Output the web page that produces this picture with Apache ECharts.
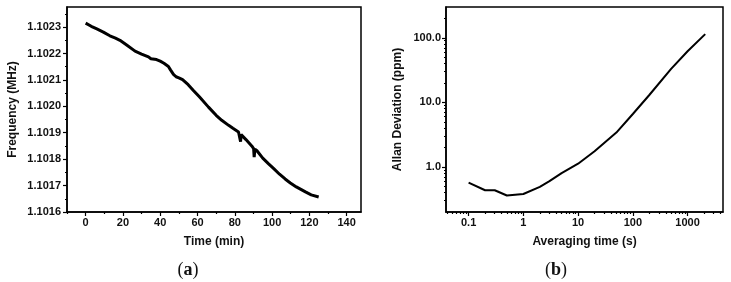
<!DOCTYPE html>
<html>
<head>
<meta charset="utf-8">
<script src="https://cdn.jsdelivr.net/npm/echarts@6/dist/echarts.min.js"></script>
<style>
  html, body { margin: 0; padding: 0; background: #fff; }
  #chart { width: 731px; height: 282px; }
</style>
</head>
<body>
<div id="chart"></div>
<script>
// (a) frequency drift
var timeMin = [0, 3, 6, 9.5, 13, 16, 18.4, 22, 26.5, 30, 33.7, 35, 35.5, 38, 40, 42, 44.4, 45.5, 47.1, 48.5, 50, 50.7, 52, 55, 57.8, 61, 65.9, 66.5, 70, 73, 76.7, 79, 82, 82.8, 83.1, 83.4, 86, 89.2, 90.1, 90.4, 90.8, 91.9, 95, 98, 100.9, 104, 107, 109.8, 113, 117.9, 121, 125]
var freqMHz = [1.102315, 1.102303, 1.102293, 1.102281, 1.102267, 1.102258, 1.10225, 1.102232, 1.102209, 1.102198, 1.102187, 1.10218, 1.102184, 1.102177, 1.102171, 1.102163, 1.102151, 1.102138, 1.102121, 1.102112, 1.102108, 1.1021085, 1.102101, 1.102082, 1.10206, 1.102036, 1.101997, 1.10199, 1.101966, 1.101947, 1.101928, 1.101917, 1.101903, 1.101897, 1.101866, 1.101893, 1.101874, 1.101849, 1.10184, 1.101808, 1.101838, 1.101832, 1.101804, 1.101783, 1.101764, 1.101743, 1.101725, 1.10171, 1.101695, 1.101676, 1.101665, 1.101657]
var timeTicks = [0, 20, 40, 60, 80, 100, 120, 140]
var timeMinor = [-10, 10, 30, 50, 70, 90, 110, 130]
var freqTicks = [1.1016, 1.1017, 1.1018, 1.1019, 1.1020, 1.1021, 1.1022, 1.1023]
var freqMinor = [1.10165, 1.10175, 1.10185, 1.10195, 1.10205, 1.10215, 1.10225, 1.10235]

// (b) Allan deviation
var tauS = [0.1, 0.2, 0.3, 0.5, 1, 2, 3, 5, 10, 20, 50, 100, 200, 500, 1000, 2100]
var adevPpm = [0.57, 0.435, 0.435, 0.36, 0.38, 0.49, 0.6, 0.8, 1.12, 1.75, 3.4, 6.6, 13, 33, 62, 114]
var tauTicks = [0.1, 1, 10, 100, 1000]
var tauLabels = ['0.1', '1', '10', '100', '1000']
var adevTicks = [1, 10, 100]
var adevLabels = ['1.0', '10.0', '100.0']

var lg = function (v) { return Math.log10(v) }

function minorLog (lo, hi) {
  var out = []
  for (var d = -3; d <= 4; d++) {
    for (var k = 2; k <= 9; k++) {
      var l = lg(k * Math.pow(10, d))
      if (l > lo + 1e-6 && l < hi - 1e-6) out.push(l)
    }
  }
  return out
}

var font = 'Liberation Sans, Arial, sans-serif'
var ink = '#111'
var timeMax = 147.7
var tauMin = -1.413, tauMax = 3.647
var adevMin = lg(0.2), adevMax = lg(300)

function baseAxis (opt) {
  var a = {
    gridIndex: opt.grid,
    type: 'value',
    position: opt.pos,
    min: opt.min,
    max: opt.max,
    axisLine: { show: opt.line !== false, onZero: false, lineStyle: { color: '#000', width: 1.5 } },
    axisTick: {
      show: true,
      inside: false,
      length: opt.len,
      customValues: opt.ticks,
      lineStyle: { color: '#000', width: 1.2 }
    },
    axisLabel: { show: false },
    splitLine: { show: false }
  }
  if (opt.labels) {
    a.axisLabel = {
      show: true,
      customValues: opt.ticks,
      formatter: opt.fmt,
      color: ink,
      fontFamily: font,
      fontWeight: 'bold',
      fontSize: 11,
      margin: opt.margin
    }
  }
  if (opt.name) {
    a.name = opt.name
    a.nameLocation = 'middle'
    a.nameGap = opt.nameGap
    a.nameTextStyle = { color: ink, fontFamily: font, fontWeight: 'bold', fontSize: 12 }
  }
  return a
}

var panelTag = function (letter, x) {
  return {
    text: '({b|' + letter + '})', left: x, top: 256, textAlign: 'center',
    textStyle: {
      fontFamily: 'Liberation Serif, serif', fontSize: 18, fontWeight: 'normal', color: ink,
      rich: { b: { fontFamily: 'Liberation Serif, serif', fontSize: 18, fontWeight: 'bold', color: ink } }
    }
  }
}

var chart = echarts.init(document.getElementById('chart'), null, { renderer: 'canvas' })

var option = {
  animation: false,
  backgroundColor: '#fff',
  title: [panelTag('a', 183), panelTag('b', 551)],
  grid: [
    { left: 67, top: 7, width: 294, height: 205, show: true, borderColor: '#000', borderWidth: 1.5, backgroundColor: 'transparent' },
    { left: 446, top: 7, width: 277, height: 205, show: true, borderColor: '#000', borderWidth: 1.5, backgroundColor: 'transparent' }
  ],
  xAxis: [
    baseAxis({ grid: 0, pos: 'bottom', min: -10, max: timeMax, len: 4, ticks: timeTicks, labels: true, margin: 5,
      fmt: function (v) { return String(v) }, name: 'Time (min)', nameGap: 24 }),
    baseAxis({ grid: 0, pos: 'bottom', min: -10, max: timeMax, len: 2, ticks: timeMinor, line: false }),
    baseAxis({ grid: 1, pos: 'bottom', min: tauMin, max: tauMax, len: 4, ticks: tauTicks.map(lg), labels: true, margin: 5,
      fmt: function (v) { return tauLabels[Math.round(v) + 1] }, name: 'Averaging time (s)', nameGap: 24 }),
    baseAxis({ grid: 1, pos: 'bottom', min: tauMin, max: tauMax, len: 2, ticks: minorLog(tauMin, tauMax), line: false })
  ],
  yAxis: [
    baseAxis({ grid: 0, pos: 'left', min: 1.1016, max: 1.102376, len: 4, ticks: freqTicks, labels: true, margin: 6,
      fmt: function (v) { return v.toFixed(4) }, name: 'Frequency (MHz)', nameGap: 48 }),
    baseAxis({ grid: 0, pos: 'left', min: 1.1016, max: 1.102376, len: 2, ticks: freqMinor, line: false }),
    baseAxis({ grid: 1, pos: 'left', min: adevMin, max: adevMax, len: 4, ticks: adevTicks.map(lg), labels: true, margin: 5,
      fmt: function (v) { return adevLabels[Math.round(v)] }, name: 'Allan Deviation (ppm)', nameGap: 42 }),
    baseAxis({ grid: 1, pos: 'left', min: adevMin, max: adevMax, len: 2, ticks: minorLog(adevMin, adevMax), line: false })
  ],
  series: [
    {
      type: 'line',
      xAxisIndex: 0,
      yAxisIndex: 0,
      data: timeMin.map(function (t, i) { return [t, freqMHz[i]] }),
      showSymbol: false,
      symbol: 'none',
      lineStyle: { color: '#000', width: 3 },
      z: 3
    },
    {
      type: 'line',
      xAxisIndex: 2,
      yAxisIndex: 2,
      data: tauS.map(function (t, i) { return [lg(t), lg(adevPpm[i])] }),
      showSymbol: false,
      symbol: 'none',
      lineStyle: { color: '#000', width: 2 },
      z: 3
    }
  ]
}

chart.setOption(option)
</script>
</body>
</html>
